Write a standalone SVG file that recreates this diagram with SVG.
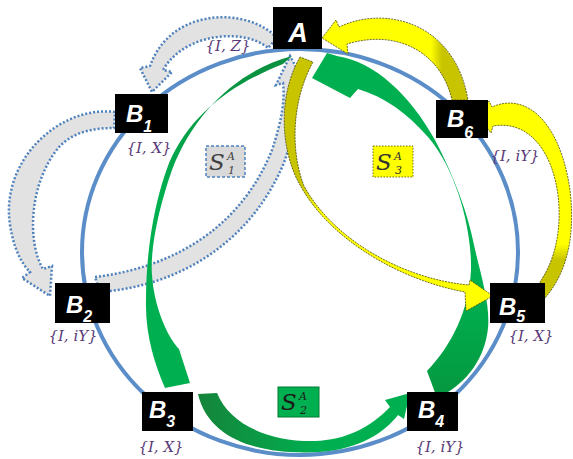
<svg xmlns="http://www.w3.org/2000/svg" width="573" height="459" viewBox="0 0 573 459">
<defs>
<style>
.node rect{fill:#000}
.nt{font-family:"Liberation Sans",Arial,sans-serif;font-weight:bold;font-style:italic;fill:#fff;font-size:24px}
.sub{font-size:16px}
.lbl{font-family:"DejaVu Serif","Liberation Serif",serif;font-style:italic;font-size:15px;fill:#5a3a78;text-anchor:middle}
.s{font-family:"DejaVu Serif","Liberation Serif",serif;font-style:italic;font-size:23px}
.ss{font-family:"DejaVu Serif","Liberation Serif",serif;font-style:italic;font-size:11px}
.grey{fill:#e2e2e2;stroke:#4f81bd;stroke-width:2.5;stroke-dasharray:2 2}
.yel{stroke:#4a4a10;stroke-width:0.8;stroke-dasharray:2 1}
.grn{stroke:none}
</style>
<linearGradient id="gY1" gradientUnits="userSpaceOnUse" x1="330" y1="0" x2="470" y2="0">
<stop offset="0" stop-color="#ffff00"/><stop offset="0.72" stop-color="#ffff00"/><stop offset="0.8" stop-color="#c8c400"/><stop offset="1" stop-color="#c8c400"/>
</linearGradient>
<linearGradient id="gY2" gradientUnits="userSpaceOnUse" x1="0" y1="100" x2="0" y2="300">
<stop offset="0" stop-color="#ffff00"/><stop offset="0.72" stop-color="#ffff00"/><stop offset="0.8" stop-color="#c8c400"/><stop offset="1" stop-color="#c8c400"/>
</linearGradient>
<linearGradient id="gY3" gradientUnits="userSpaceOnUse" x1="0" y1="57" x2="0" y2="310">
<stop offset="0" stop-color="#c8c400"/><stop offset="0.5" stop-color="#c8c400"/><stop offset="0.62" stop-color="#ffff00"/><stop offset="1" stop-color="#ffff00"/>
</linearGradient>
<linearGradient id="gG1" gradientUnits="userSpaceOnUse" x1="0" y1="56" x2="0" y2="200">
<stop offset="0" stop-color="#0a8f3f"/><stop offset="1" stop-color="#00b050"/>
</linearGradient>
<linearGradient id="gG2" gradientUnits="userSpaceOnUse" x1="200" y1="0" x2="320" y2="0">
<stop offset="0" stop-color="#14853a"/><stop offset="1" stop-color="#00b050"/>
</linearGradient>
<linearGradient id="gG3" gradientUnits="userSpaceOnUse" x1="0" y1="400" x2="0" y2="290">
<stop offset="0" stop-color="#05973f"/><stop offset="1" stop-color="#00b050"/>
</linearGradient>
</defs>
<rect width="573" height="459" fill="#fff"/>
<g id="connectors">
<path class="grey" d="M277,38 C250,8 172,5 150,66 L140,68 L152,92 L172,72 L163,70 C185,32 245,28 268,48 Z"/>
<path class="grey" d="M115,112 C60,105 0,160 10,225 C14,250 22,264 30,272 L22,278 L50,296 L52,266 L43,269 C26,240 30,180 60,146 C75,131 95,128 114,128 Z"/>
<path class="grey" d="M95,277 C170,268 240,230 272,150 C282,120 285,100 283,83 L276,85 L290,56 L303,80 L295,82 C297,110 293,140 283,165 C250,242 180,286 100,292 Z"/>
<ellipse cx="300" cy="252" rx="218" ry="203" fill="none" stroke="#5b8ec8" stroke-width="4"/>
<path class="grn" fill="url(#gG1)" d="M292,56 C240,70 195,110 172,170 C158,210 150,250 152,275 C154,305 166,335 179,349 L190,383 L165,388 C155,365 145,335 146,300 C146,255 153,205 169,163 C190,115 230,85 283,64 Z"/>
<path class="grn" fill="url(#gG2)" d="M198,394 C210,445 270,455 320,452 C360,449 385,432 398,415 L404,419 L410,393 L385,400 L390,407 C370,428 345,440 315,441 C270,442 230,425 217,393 Z"/>
<path class="grn" fill="url(#gG3)" d="M437,398 L427,371 C452,345 469,310 471,270 C472,232 458,172 428,137 C407,113 385,97 358,89 L350,98 L312,78 L327,53 L337,56 C375,62 410,95 435,140 C455,178 468,215 474,245 C482,280 492,310 487,335 C482,362 465,385 437,398 Z"/>
<path class="yel" fill="url(#gY3)" d="M300,57 C278,95 280,150 300,185 C330,240 400,280 465,292 L466,311 L493,296 L470,280 L469,285 C402,279 333,239 304,186 C290,150 292,100 313,62 Z"/>
<path class="yel" fill="url(#gY1)" d="M322,38 L336,20 L339,27 C385,5 455,22 468,100 L452,100 C442,55 400,28 347,44 L348,54 Z"/>
<path class="yel" fill="url(#gY2)" d="M479,117 L489,101 L492,107 C525,92 560,120 570,190 C576,240 565,275 545,298 L540,282 C555,260 562,230 558,195 C552,150 528,120 493,126 L491,133 Z"/>
</g>
<g id="S1"><rect x="206" y="146" width="39" height="31" fill="#d9d9d9" stroke="#4f81bd" stroke-width="1.5" stroke-dasharray="3 2"/><text class="s" x="209" y="170" fill="#404040">S</text><text class="ss" x="227" y="160" fill="#404040">A</text><text class="ss" x="228" y="174" fill="#404040">1</text></g>
<g id="S3"><rect x="373" y="146" width="40" height="31" fill="#ffff00" stroke="#6f6f00" stroke-width="1" stroke-dasharray="1.5 1.5"/><text class="s" x="376" y="170" fill="#333">S</text><text class="ss" x="394" y="160" fill="#333">A</text><text class="ss" x="395" y="174" fill="#333">3</text></g>
<g id="S2"><rect x="278" y="387" width="41" height="30" fill="#00b050" stroke="#007a33" stroke-width="1"/><text class="s" x="281" y="410" fill="#1a1a1a">S</text><text class="ss" x="299" y="400" fill="#1a1a1a">A</text><text class="ss" x="300" y="414" fill="#1a1a1a">2</text></g>
<g id="A" class="node"><rect x="273" y="7" width="49" height="42"/><text class="nt" x="298" y="42" text-anchor="middle" style="font-size:27px">A</text><text class="lbl" x="228" y="51">{I, Z}</text></g>
<g id="B1" class="node"><rect x="115" y="94" width="53" height="39"/><text class="nt" x="126" y="122">B<tspan class="sub" dy="10">1</tspan></text><text class="lbl" x="149" y="153">{I, X}</text></g>
<g id="B6" class="node"><rect x="436" y="100" width="52" height="38"/><text class="nt" x="447" y="127">B<tspan class="sub" dy="11">6</tspan></text><text class="lbl" x="515" y="161">{I, iY}</text></g>
<g id="B2" class="node"><rect x="55" y="283" width="55" height="40"/><text class="nt" x="66" y="313">B<tspan class="sub" dy="9">2</tspan></text><text class="lbl" x="73" y="341">{I, iY}</text></g>
<g id="B5" class="node"><rect x="490" y="283" width="55" height="40"/><text class="nt" x="499" y="315">B<tspan class="sub" dy="7">5</tspan></text><text class="lbl" x="531" y="341">{I, X}</text></g>
<g id="B3" class="node"><rect x="142" y="392" width="51" height="39"/><text class="nt" x="149" y="418">B<tspan class="sub" dy="9">3</tspan></text><text class="lbl" x="161" y="452">{I, X}</text></g>
<g id="B4" class="node"><rect x="407" y="392" width="51" height="39"/><text class="nt" x="418" y="418">B<tspan class="sub" dy="9">4</tspan></text><text class="lbl" x="440" y="452">{I, iY}</text></g>
</svg>
